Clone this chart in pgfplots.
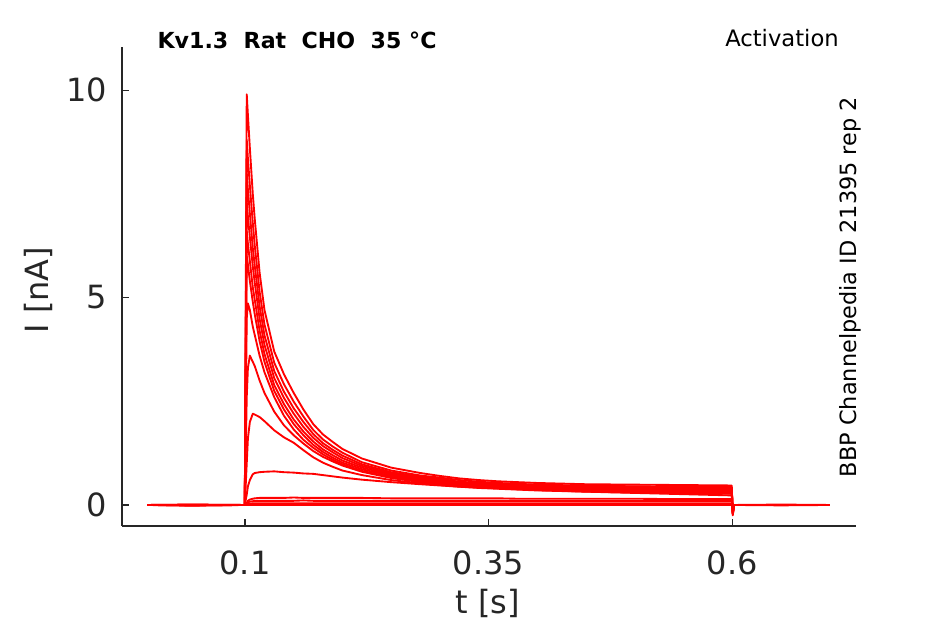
\documentclass[border=0pt]{standalone}
\usepackage{pgfplots}
\pgfplotsset{compat=1.18}
\usepackage{pgfplotstable}
\usepackage{fontspec}
\setmainfont{DejaVu Sans}
\definecolor{axgray}{HTML}{262626}
\pgfplotstableread{
t      T1    T2    T3    T4    T5    T6    T7    T8    T9    T10   T11   T12   T13   T14
0.000  0     0     0     0     0     0     0     0     0     0     0     0     0     0
0.045  -0.02 0     -0.01 0     0.01  0     -0.01 0     0     0.01  0     0     0     0
0.0998 0     0     0     0     0     0     0     0     0     0     0     0     0     0
0.1018 9.9   8.8   8.0   7.3   6.6   6.0   4.5   2.6   1.0   0.25  0.05  0.03  0.01  0
0.103  9.4   8.35  7.6   6.95  6.3   5.8   4.86  3.3   1.6   0.45  0.10  0.06  0.02  0
0.105  8.6   7.7   7.03  6.46  5.88  5.4   4.7   3.6   2.0   0.60  0.13  0.08  0.03  0
0.108  7.5   6.8   6.2   5.75  5.25  4.9   4.3   3.45  2.2   0.74  0.15  0.09  0.04  0
0.110  6.9   6.26  5.77  5.36  4.95  4.6   4.1   3.35  2.18  0.77  0.16  0.10  0.04  0
0.115  5.6   5.14  4.79  4.49  4.2   3.95  3.6   3.0   2.12  0.79  0.17  0.10  0.04  0
0.120  4.7   4.35  4.09  3.86  3.64  3.45  3.2   2.7   2.02  0.80  0.17  0.10  0.04  0
0.130  3.7   3.43  3.23  3.06  2.89  2.75  2.6   2.25  1.80  0.81  0.17  0.10  0.04  0
0.140  3.15  2.91  2.73  2.58  2.43  2.3   2.15  1.92  1.63  0.79  0.17  0.10  0.04  0
0.150  2.7   2.49  2.33  2.2   2.06  1.95  1.82  1.68  1.50  0.78  0.18  0.10  0.04  0
0.160  2.3   2.13  2.0   1.88  1.77  1.68  1.57  1.48  1.32  0.76  0.17  0.11  0.04  0
0.170  1.95  1.81  1.71  1.62  1.53  1.45  1.38  1.30  1.15  0.75  0.17  0.10  0.04  0
0.180  1.7   1.58  1.49  1.42  1.34  1.28  1.22  1.16  1.02  0.72  0.17  0.10  0.04  0
0.190  1.52  1.41  1.33  1.27  1.20  1.14  1.09  1.05  0.92  0.69  0.17  0.10  0.04  0
0.200  1.35  1.26  1.19  1.13  1.07  1.02  0.98  0.95  0.83  0.66  0.17  0.10  0.04  0
0.220  1.12  1.03  0.98  0.94  0.9   0.86  0.82  0.80  0.72  0.61  0.17  0.10  0.04  0
0.250  0.90  0.83  0.79  0.76  0.73  0.7   0.67  0.65  0.60  0.55  0.16  0.10  0.04  0
0.280  0.77  0.71  0.68  0.65  0.62  0.6   0.57  0.55  0.52  0.50  0.16  0.10  0.04  0
0.300  0.70  0.66  0.63  0.60  0.57  0.55  0.52  0.50  0.48  0.47  0.16  0.10  0.04  0
0.320  0.64  0.60  0.56  0.54  0.52  0.5   0.48  0.46  0.44  0.44  0.16  0.10  0.04  0
0.340  0.60  0.56  0.53  0.51  0.49  0.47  0.45  0.43  0.41  0.42  0.16  0.10  0.04  0
0.360  0.57  0.53  0.5   0.48  0.465 0.45  0.43  0.41  0.39  0.40  0.16  0.10  0.04  0
0.380  0.55  0.51  0.48  0.46  0.44  0.43  0.41  0.39  0.37  0.38  0.15  0.10  0.04  0
0.400  0.53  0.49  0.465 0.44  0.425 0.41  0.39  0.37  0.35  0.36  0.15  0.10  0.04  0
0.450  0.50  0.465 0.44  0.415 0.395 0.38  0.36  0.34  0.32  0.32  0.15  0.10  0.04  0
0.500  0.49  0.45  0.425 0.40  0.375 0.36  0.34  0.32  0.30  0.29  0.15  0.10  0.04  0
0.550  0.48  0.44  0.41  0.385 0.365 0.35  0.33  0.31  0.28  0.26  0.14  0.10  0.04  0
0.5995 0.47  0.43  0.40  0.375 0.355 0.34  0.32  0.30  0.27  0.23  0.14  0.10  0.04  0
0.6005 -0.25 -0.24 -0.22 -0.2  -0.2  -0.18 -0.16 -0.15 -0.12 -0.1  -0.05 -0.03 -0.01 0
0.6020 0     0     0     0     0     0     0     0     0     0     0     0     0     0
0.650  0     0.01  0     0     -0.01 0     0     0     0     0     0     0     0     0
0.700  0     0     0     0     0     0     0     0     0     0     0     0     0     0
}\traces
\begin{document}
\begin{tikzpicture}
\useasboundingbox (0,0) rectangle (708.75pt,468pt);
\begin{axis}[
  at={(91.5pt,73.5pt)}, anchor=south west,
  scale only axis, width=550.5pt, height=359.25pt,
  xmin=-0.0262, xmax=0.727, ymin=-0.507, ymax=11.04,
  axis x line=bottom, axis y line=left,
  axis line style={-, axgray, line width=0.8pt},
  tick align=inside, major tick length=5pt,
  tick style={axgray, line width=0.8pt},
  xtick={0.1,0.35,0.6}, xticklabels={0.1,0.35,0.6},
  ytick={0,5,10},
  tick label style={font=\fontsize{24}{28}\selectfont, text=axgray},
  xticklabel style={yshift=-15pt},
  yticklabel style={xshift=-7.5pt},
  /pgf/number format/assume math mode=true,
  xlabel={t [s]}, ylabel={I [nA]},
  label style={font=\fontsize{24}{28}\selectfont, text=axgray},
  xlabel style={at={(axis description cs:0.4986,-0.1608)}, anchor=center},
  ylabel style={at={(axis description cs:-0.1144,0.4927)}, anchor=center, rotate=0},
  clip=false,
]
\pgfplotsinvokeforeach{1,...,14}{
  \addplot[red, line width=1.4pt, line join=round, no markers] table[x=t, y=T#1] {\traces};
}
\end{axis}
\node[font=\fontsize{16.6}{19}\selectfont\bfseries, anchor=center] at (222.75pt,438pt) {Kv1.3\ \ Rat\ \ CHO\ \ 35 °C};
\node[font=\fontsize{17}{20}\selectfont, anchor=center] at (586.5pt,439.5pt) {Activation};
\node[font=\fontsize{16.8}{20}\selectfont, anchor=center, rotate=90] at (637.5pt,252.75pt) {BBP Channelpedia ID 21395 rep 2};
\end{tikzpicture}
\end{document}
